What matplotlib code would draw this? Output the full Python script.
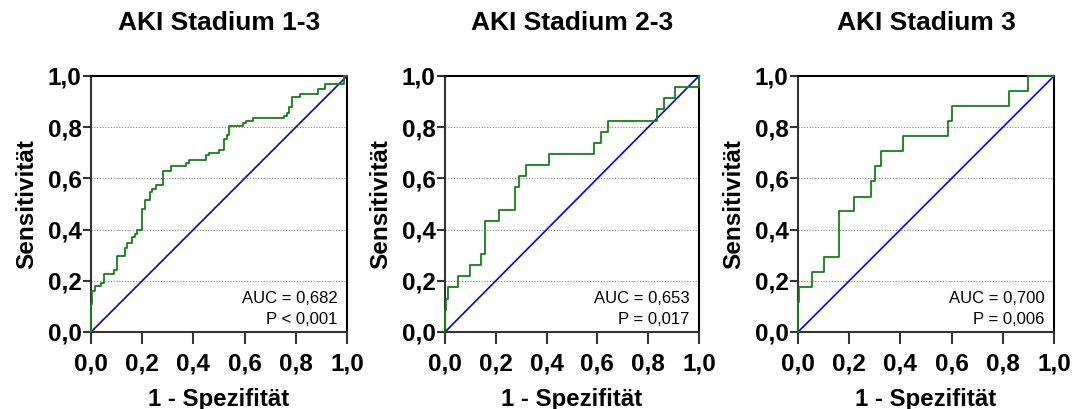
import matplotlib
matplotlib.use("Agg")
from matplotlib import pyplot as plt

plt.rcParams['font.family'] = ['Liberation Sans', 'DejaVu Sans']

titles = ["AKI Stadium 1-3", "AKI Stadium 2-3", "AKI Stadium 3"]
auc_texts = ["AUC = 0,682", "AUC = 0,653", "AUC = 0,700"]
p_texts = ["P < 0,001", "P = 0,017", "P = 0,006"]

# ROC vertices (1 - Spezifitaet, Sensitivitaet)
fpr_13 = [0, 0, 0.005, 0.016, 0.039, 0.049, 0.09, 0.10, 0.131, 0.14, 0.16,
          0.171, 0.18, 0.2, 0.21, 0.23, 0.239, 0.252, 0.281, 0.311, 0.373,
          0.381, 0.451, 0.462, 0.501, 0.521, 0.53, 0.541, 0.593, 0.604, 0.633,
          0.755, 0.764, 0.774, 0.785, 0.816, 0.885, 0.916, 0.987, 1.0]
tpr_13 = [0, 0.108, 0.16, 0.18, 0.192, 0.225, 0.244, 0.297, 0.328, 0.348, 0.37,
          0.383, 0.399, 0.481, 0.514, 0.545, 0.56, 0.573, 0.629, 0.65, 0.66,
          0.67, 0.69, 0.70, 0.71, 0.752, 0.771, 0.804, 0.817, 0.825, 0.835,
          0.843, 0.856, 0.877, 0.919, 0.928, 0.949, 0.969, 1.0, 1.0]

fpr_23 = [0, 0, 0.005, 0.01, 0.05, 0.099, 0.143, 0.156, 0.213, 0.276, 0.293,
          0.318, 0.41, 0.588, 0.613, 0.64, 0.835, 0.862, 0.907, 1.0, 1.0]
tpr_23 = [0, 0.087, 0.130, 0.174, 0.217, 0.261, 0.304, 0.435, 0.478, 0.565,
          0.609, 0.652, 0.696, 0.739, 0.783, 0.826, 0.870, 0.913, 0.957, 0.957, 1.0]

fpr_3 = [0, 0, 0.004, 0.055, 0.1, 0.16, 0.218, 0.284, 0.3, 0.323, 0.411,
         0.584, 0.603, 0.825, 0.9, 1.0]
tpr_3 = [0, 0.118, 0.176, 0.235, 0.294, 0.471, 0.529, 0.588, 0.647, 0.706,
         0.765, 0.824, 0.882, 0.941, 1.0, 1.0]

curves = [(fpr_13, tpr_13), (fpr_23, tpr_23), (fpr_3, tpr_3)]
ticks = [0.0, 0.2, 0.4, 0.6, 0.8, 1.0]
tick_labels = ["0,0", "0,2", "0,4", "0,6", "0,8", "1,0"]

W, H = 1075, 409
fig = plt.figure(figsize=(W / 100, H / 100), dpi=100)

# axes boxes in pixels: left, right, top, bottom
boxes = [(91, 347, 76, 332), (445, 699, 76, 332), (798, 1054, 76, 332)]

for i in range(3):
    l, r, t, b = boxes[i]
    ax = fig.add_axes([l / W, 1 - b / H, (r - l) / W, (b - t) / H])
    fpr, tpr = curves[i]
    ax.plot([0, 1], [0, 1], color='#0000ff', lw=1.2, zorder=3)
    ax.plot(fpr, tpr, drawstyle='steps-post', color='#108410', lw=1.3, zorder=4,
            clip_on=False)
    ax.set_xlim(0, 1)
    ax.set_ylim(0, 1)
    for g in [0.2, 0.4, 0.6, 0.8]:
        ax.axhline(g, color='#888888', lw=0.8, ls=(0, (1, 1.5)), zorder=1)
    ax.set_xticks(ticks)
    ax.set_yticks(ticks)
    ax.set_xticklabels(tick_labels, fontsize=17.5, fontweight='bold')
    ax.set_yticklabels(tick_labels, fontsize=17.5, fontweight='bold')
    ax.tick_params(axis='x', length=8.5, width=1.5, color='#333333', pad=6)
    ax.tick_params(axis='y', length=5.8, width=1.5, color='#333333', pad=1)
    for s in ['left', 'bottom']:
        ax.spines[s].set_color('#333333')
        ax.spines[s].set_linewidth(1.5)
    for s in ['top', 'right']:
        ax.spines[s].set_color('black')
        ax.spines[s].set_linewidth(1.5)
    ax.set_xlabel("1 - Spezifität", fontsize=17.3, fontweight='bold', labelpad=9)
    ax.set_ylabel("Sensitivität", fontsize=17.5, fontweight='bold', labelpad=7)
    fig.text((l + r) / 2 / W, 1 - 23 / H, titles[i], ha='center', va='center',
             fontsize=19, fontweight='bold')
    ax.text(0.963, 0.132, auc_texts[i], transform=ax.transAxes, ha='right',
            va='center', fontsize=12)
    ax.text(0.963, 0.047, p_texts[i], transform=ax.transAxes, ha='right',
            va='center', fontsize=12)

fig.savefig("out.png", dpi=100)
